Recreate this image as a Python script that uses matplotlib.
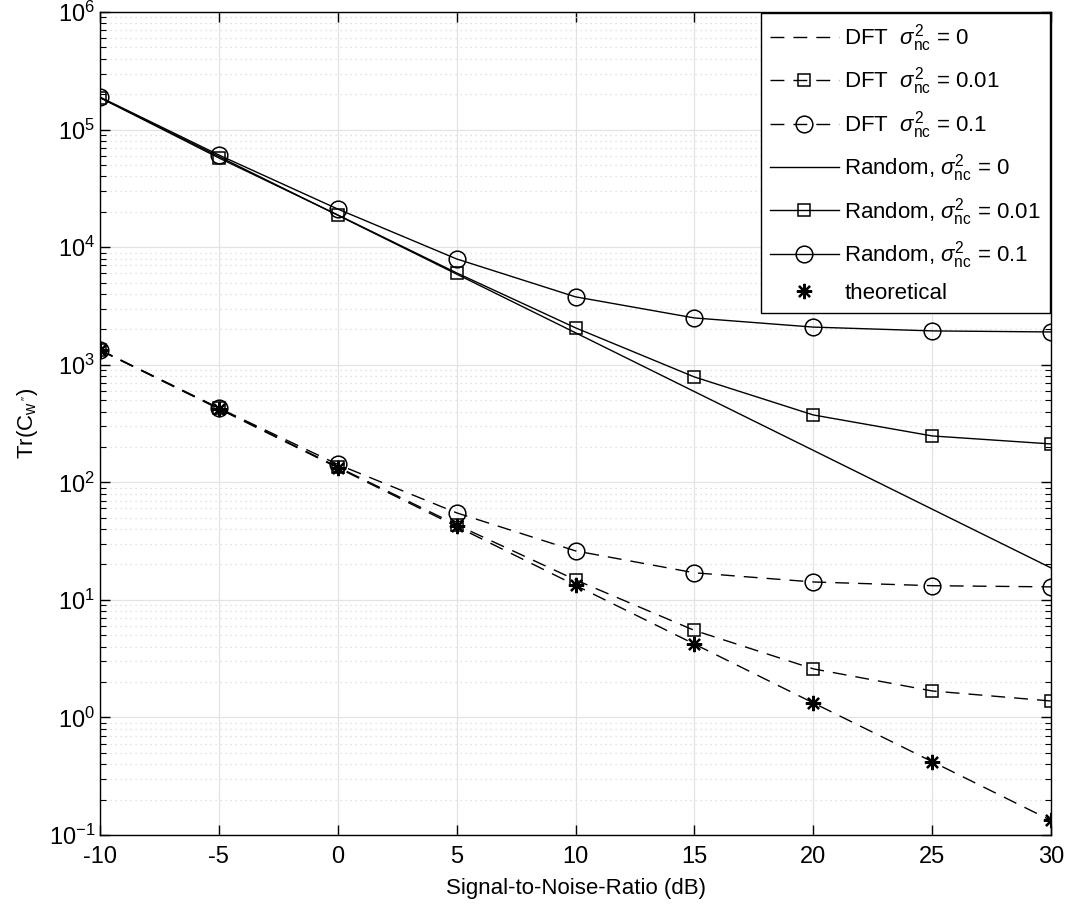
import matplotlib
matplotlib.use('Agg')
from matplotlib import pyplot as plt

plt.rcParams['font.family'] = ['Liberation Sans', 'DejaVu Sans']
plt.rcParams['mathtext.fontset'] = 'custom'
plt.rcParams['mathtext.rm'] = 'Liberation Sans'
plt.rcParams['mathtext.it'] = 'Liberation Sans:italic'

snr = [-10, -5, 0, 5, 10, 15, 20, 25, 30]
decades = [-1, 0, 1, 2, 3, 4, 5, 6]

# DFT codebook
dft_0 = [1330, 421, 133, 42.1, 13.3, 4.21, 1.33, 0.421, 0.133]
dft_001 = [1330, 425, 135, 43.5, 14.8, 5.5, 2.59, 1.68, 1.38]
dft_01 = [1340, 428, 142, 55, 26.1, 17.0, 14.2, 13.2, 12.9]

# random codebook
rnd_0 = [1.87e5, 5.9e4, 1.87e4, 5.9e3, 1.87e3, 591, 187, 59.1, 18.7]
rnd_001 = [1.87e5, 5.74e4, 1.88e4, 6.04e3, 2.06e3, 787, 374, 248, 212]
rnd_01 = [1.89e5, 6.08e4, 2.11e4, 7.94e3, 3.78e3, 2.50e3, 2.09e3, 1.94e3, 1.90e3]

theory = [1330, 421, 133, 42.1, 13.3, 4.21, 1.33, 0.421, 0.133]

fig = plt.figure(figsize=(10.65, 9.11), dpi=100)
ax = fig.add_axes([0.0939, 0.0834, 0.893, 0.9034])

dash = (10, 6.5)
sq = dict(marker='s', ms=9, mfc='none', mec='k', mew=1.1)
ci = dict(marker='o', ms=12, mfc='none', mec='k', mew=1.1)

ax.plot(snr, dft_0, 'k', lw=1, dashes=dash, label=r'DFT  $\sigma^2_{\mathrm{nc}}$ = 0')
ax.plot(snr, dft_001, 'k', lw=1, dashes=dash, label=r'DFT  $\sigma^2_{\mathrm{nc}}$ = 0.01', **sq)
ax.plot(snr, dft_01, 'k', lw=1, dashes=dash, label=r'DFT  $\sigma^2_{\mathrm{nc}}$ = 0.1', **ci)
ax.plot(snr, rnd_0, 'k-', lw=1, label=r'Random, $\sigma^2_{\mathrm{nc}}$ = 0')
ax.plot(snr, rnd_001, 'k-', lw=1, label=r'Random, $\sigma^2_{\mathrm{nc}}$ = 0.01', **sq)
ax.plot(snr, rnd_01, 'k-', lw=1, label=r'Random, $\sigma^2_{\mathrm{nc}}$ = 0.1', **ci)
ax.plot(snr, theory, ls='none', marker=(8, 2, 0), ms=11, mec='k', mew=1.6,
        label='theoretical')

ax.set_yscale('log')
ax.set_xlim(-10, 30)
ax.set_ylim(1e-1, 1e6)
ax.set_xticks(snr)
ax.set_xticklabels([str(s) for s in snr])
ax.set_yticks([10.0 ** d for d in decades])
ax.set_yticklabels([r'$10^{%d}$' % d for d in decades])
ax.set_yticks([m * 10.0 ** d for d in decades[:-1] for m in range(2, 10)], minor=True)
ax.set_yticklabels([], minor=True)

ax.tick_params(which='both', direction='in', top=True, right=True, labelsize=17)
ax.tick_params(which='major', length=7, width=1)
ax.tick_params(which='minor', length=4, width=0.8)
ax.tick_params(axis='x', pad=8)
for s in ax.spines.values():
    s.set_linewidth(1.0)

ax.grid(True, which='major', color='#e3e3e3', lw=0.9, ls='-')
ax.grid(True, which='minor', color='#d9d9d9', lw=0.9, ls=(0, (1, 3)))
ax.set_axisbelow(True)

ax.set_xlabel('Signal-to-Noise-Ratio (dB)', fontsize=16, labelpad=7)
ax.set_ylabel(r"Tr(C$_{\mathrm{w}\,''}$)", fontsize=16, labelpad=6)

leg = ax.legend(loc='upper right', bbox_to_anchor=(1.0, 1.0), borderaxespad=0.05,
                fontsize=16, fancybox=False, edgecolor='k', framealpha=1,
                handlelength=3.1, labelspacing=0.52, borderpad=0.4,
                handletextpad=0.25)
leg.get_frame().set_linewidth(1.0)

plt.savefig('out.png', dpi=100)
plt.close()
